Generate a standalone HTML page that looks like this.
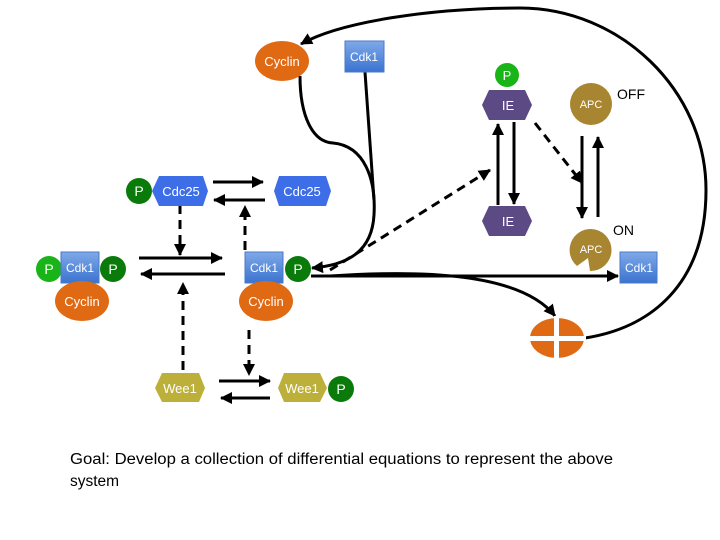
<!DOCTYPE html>
<html><head><style>body{margin:0;background:#fff}svg{display:block}</style></head><body>
<svg width="720" height="540" viewBox="0 0 720 540" xmlns="http://www.w3.org/2000/svg" font-family="Liberation Sans, sans-serif">
<defs>
<marker id="b" markerWidth="12" markerHeight="12" refX="11" refY="6" orient="auto" markerUnits="userSpaceOnUse"><path d="M0,0L12,6L0,12z" fill="#000"/></marker>
<linearGradient id="g" x1="0" y1="0" x2="0" y2="1"><stop offset="0" stop-color="#7fa9e8"/><stop offset="1" stop-color="#3b73d0"/></linearGradient>
</defs>
<g stroke="#000" stroke-width="3" fill="none">
<path d="M585,338 C650,328 706,285 706,190 C706,90 620,8 520,8 C430,8 340,22 301,44" marker-end="url(#b)"/>
<path d="M300,76 C300,115 312,142 333,143 C365,146 376,180 374,215 C372,250 350,265 312,268" marker-end="url(#b)"/>
<path d="M365,72 L374,200"/>
<path d="M311,276 L618,276" marker-end="url(#b)"/>
<path d="M330,276 C420,270 520,272 555,316" marker-end="url(#b)"/>
<path d="M330,270 L490,170" stroke-dasharray="9,6" marker-end="url(#b)"/>
<path d="M535,123 L582,183" stroke-dasharray="9,6" marker-end="url(#b)"/>
<path d="M498,205 L498,124" marker-end="url(#b)"/>
<path d="M514,122 L514,204" marker-end="url(#b)"/>
<path d="M582,136 L582,218" marker-end="url(#b)"/>
<path d="M598,217 L598,137" marker-end="url(#b)"/>
<path d="M213,182 L263,182" marker-end="url(#b)"/>
<path d="M265,200 L214,200" marker-end="url(#b)"/>
<path d="M139,258 L222,258" marker-end="url(#b)"/>
<path d="M225,274 L141,274" marker-end="url(#b)"/>
<path d="M219,381 L270,381" marker-end="url(#b)"/>
<path d="M270,398 L221,398" marker-end="url(#b)"/>
<path d="M180,205 L180,255" stroke-dasharray="9,6" marker-end="url(#b)"/>
<path d="M245,250 L245,206" stroke-dasharray="9,6" marker-end="url(#b)"/>
<path d="M183,370 L183,283" stroke-dasharray="9,6" marker-end="url(#b)"/>
<path d="M249,330 L249,375" stroke-dasharray="9,6" marker-end="url(#b)"/>
</g>
<g font-size="13" fill="#fff" text-anchor="middle">
<ellipse cx="282" cy="61" rx="27" ry="20" fill="#e06a14"/><text x="282" y="66">Cyclin</text>
<rect x="345" y="41" width="39" height="31" fill="url(#g)" stroke="#4a7ac8"/><text x="364" y="61" font-size="12">Cdk1</text>
<circle cx="507" cy="75" r="12" fill="#18b418"/><text x="507" y="80">P</text>
<polygon points="482,105 489,90 525,90 532,105 525,120 489,120" fill="#5b4a84"/><text x="508" y="110">IE</text>
<polygon points="482,221 489,206 525,206 532,221 525,236 489,236" fill="#5b4a84"/><text x="508" y="226">IE</text>
<circle cx="591" cy="104" r="21" fill="#a88530"/><text x="591" y="108" font-size="11">APC</text>
<path d="M591,229 A21,21 0 1 1 590,271 L588,258 L577,266 A21,21 0 0 1 591,229z" fill="#a88530"/><text x="591" y="253" font-size="11">APC</text>
<rect x="620" y="252" width="37" height="31" fill="url(#g)" stroke="#4a7ac8"/><text x="639" y="272" font-size="12">Cdk1</text>
<ellipse cx="557" cy="338" rx="27" ry="20" fill="#e06a14"/>
<rect x="554" y="316" width="5" height="44" fill="#fff"/><rect x="528" y="336" width="58" height="5" fill="#fff"/>
<circle cx="139" cy="191" r="13" fill="#0a7a0a"/><text x="139" y="196" font-size="14">P</text>
<polygon points="152,191 159,176 203,176 208,191 203,206 159,206" fill="#3d6ee8"/><text x="181" y="196">Cdc25</text>
<polygon points="274,191 279,176 326,176 331,191 326,206 279,206" fill="#3d6ee8"/><text x="302" y="196">Cdc25</text>
<circle cx="49" cy="269" r="13" fill="#18b418"/><text x="49" y="274" font-size="14">P</text>
<rect x="61" y="252" width="38" height="31" fill="url(#g)" stroke="#4a7ac8"/><text x="80" y="272" font-size="12">Cdk1</text>
<circle cx="113" cy="269" r="13" fill="#0a7a0a"/><text x="113" y="274" font-size="14">P</text>
<ellipse cx="82" cy="301" rx="27" ry="20" fill="#e06a14"/><text x="82" y="306">Cyclin</text>
<rect x="245" y="252" width="38" height="31" fill="url(#g)" stroke="#4a7ac8"/><text x="264" y="272" font-size="12">Cdk1</text>
<circle cx="298" cy="269" r="13" fill="#0a7a0a"/><text x="298" y="274" font-size="14">P</text>
<ellipse cx="266" cy="301" rx="27" ry="20" fill="#e06a14"/><text x="266" y="306">Cyclin</text>
<polygon points="155,388 162,373 199,373 205,388 199,402 162,402" fill="#bdb03a"/><text x="180" y="393">Wee1</text>
<polygon points="278,388 284,373 320,373 327,388 320,402 284,402" fill="#bdb03a"/><text x="302" y="393">Wee1</text>
<circle cx="341" cy="389" r="13" fill="#0a7a0a"/><text x="341" y="394" font-size="14">P</text>
</g>
<g font-size="14" fill="#000">
<text x="617" y="99">OFF</text>
<text x="613" y="235">ON</text>
<text x="70" y="464" font-size="15.5" textLength="543" lengthAdjust="spacingAndGlyphs">Goal: Develop a collection of differential equations to represent the above</text>
<text x="70" y="486" font-size="15.5">system</text>
</g>
</svg>
</body></html>
